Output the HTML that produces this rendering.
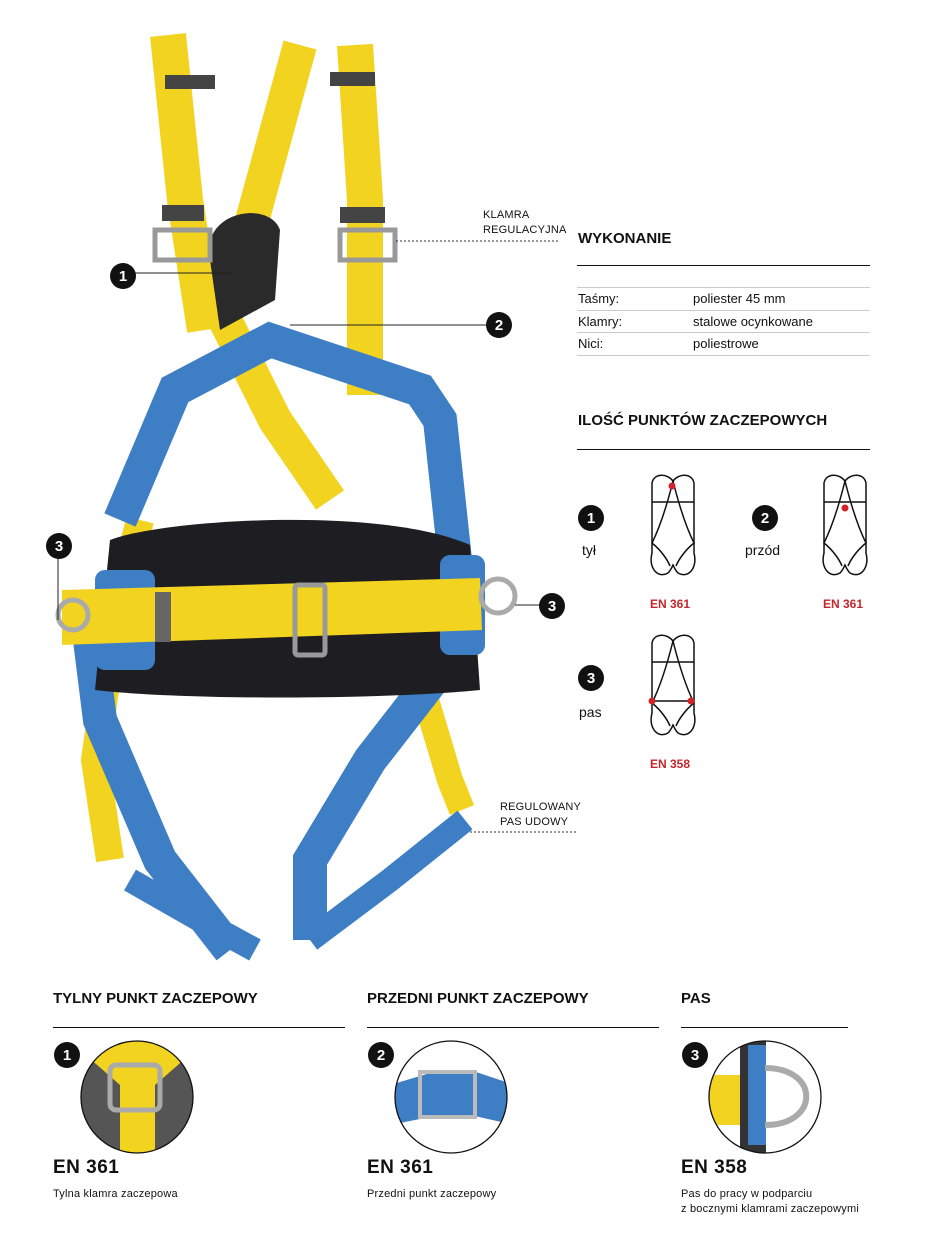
<!DOCTYPE html>
<html><head><meta charset="utf-8"><style>
body{margin:0;width:928px;height:1245px;background:#fff;position:relative;font-family:"Liberation Sans",sans-serif;color:#111;overflow:hidden}
.a{position:absolute;white-space:nowrap}
.h{font-weight:bold;font-size:15px}
.t{font-size:13px}
.r{color:#c0272d;font-size:12px;font-weight:bold}
.sm{font-size:11px;letter-spacing:0.2px;line-height:15px;font-family:"Liberation Sans Narrow","Liberation Sans",sans-serif}
.en{font-weight:bold;font-size:19px;letter-spacing:0.5px}
.hr{position:absolute;height:1px;background:#111}
.hl{position:absolute;height:1px;background:#ccc}
</style></head><body>
<svg width="928" height="1245" style="position:absolute;left:0;top:0">
<defs>
<g id="fig" fill="none" stroke="#111" stroke-width="1.5">
<path d="M23 8 C17 0 4 0 2 10 L2 80 C-2 95 8 106 18 100 C21 97 22 94 23 92 C24 94 25 97 28 100 C38 106 48 95 44 80 L44 10 C42 0 29 0 23 8 Z"/>
<path d="M23 8 C26 20 34 50 44 70 C34 78 28 88 26 93 M23 8 C20 20 12 50 2 70 C12 78 18 88 20 93"/>
<line x1="2" y1="29" x2="44" y2="29"/>
</g>
<clipPath id="c1"><circle cx="137" cy="1097" r="56"/></clipPath>
<clipPath id="c2"><circle cx="451" cy="1097" r="56"/></clipPath>
<clipPath id="c3"><circle cx="765" cy="1097" r="56"/></clipPath>
</defs>
<!-- harness -->
<g stroke-linecap="butt" fill="none">
<polyline points="168,35 185,200 205,330" stroke="#f2d320" stroke-width="36"/>
<polyline points="300,45 255,210 225,320 275,420 330,500" stroke="#f2d320" stroke-width="34"/>
<polyline points="355,45 365,200 365,395" stroke="#f2d320" stroke-width="36"/>
<polyline points="140,520 115,620 95,760 110,860" stroke="#f2d320" stroke-width="28"/>
<polyline points="420,680 450,780 462,810" stroke="#f2d320" stroke-width="26"/>
<polyline points="120,520 175,390 270,340 330,360 420,390 440,420 455,560" stroke="#3d7ec4" stroke-width="34"/>
<polyline points="90,640 100,720 160,860 230,950" stroke="#3d7ec4" stroke-width="34"/>
<polyline points="440,670 370,760 310,860 310,940" stroke="#3d7ec4" stroke-width="34"/>
<polyline points="130,880 200,920 255,950" stroke="#3d7ec4" stroke-width="24"/>
<polyline points="310,940 390,880 465,820" stroke="#3d7ec4" stroke-width="24"/>
<path d="M210 260 C200 210 270 200 280 230 L275 300 L220 330 Z" fill="#2a2a2a" stroke="none"/>
</g>
<path d="M110 540 C160 520 380 505 470 545 L480 690 C380 700 180 700 95 690 Z" fill="#1e1e22"/>
<rect x="95" y="570" width="60" height="100" rx="10" fill="#3d7ec4"/>
<rect x="440" y="555" width="45" height="100" rx="10" fill="#3d7ec4"/>
<polygon points="62,590 480,578 482,630 62,645" fill="#f2d320"/>
<rect x="295" y="585" width="30" height="70" rx="3" fill="none" stroke="#999" stroke-width="5"/>
<rect x="155" y="592" width="16" height="50" fill="#666"/>
<circle cx="73" cy="615" r="15" fill="none" stroke="#aaa" stroke-width="5"/>
<circle cx="498" cy="596" r="17" fill="none" stroke="#aaa" stroke-width="5"/>
<rect x="165" y="75" width="50" height="14" fill="#444"/>
<rect x="330" y="72" width="45" height="14" fill="#444"/>
<rect x="162" y="205" width="42" height="16" fill="#444"/>
<rect x="340" y="207" width="45" height="16" fill="#444"/>
<rect x="155" y="230" width="55" height="30" fill="none" stroke="#999" stroke-width="5"/>
<rect x="340" y="230" width="55" height="30" fill="none" stroke="#999" stroke-width="5"/>
<!-- leaders -->
<line x1="396" y1="241" x2="560" y2="241" stroke="#333" stroke-dasharray="2,2"/>
<line x1="470" y1="832" x2="578" y2="832" stroke="#333" stroke-dasharray="2,2"/>
<line x1="135" y1="273" x2="232" y2="273" stroke="#222"/>
<line x1="290" y1="325" x2="487" y2="325" stroke="#222"/>
<line x1="58" y1="558" x2="58" y2="620" stroke="#222"/>
<line x1="515" y1="605" x2="540" y2="605" stroke="#222"/>
<g font-family="Liberation Sans" font-weight="bold" font-size="15" fill="#fff" text-anchor="middle">
<circle cx="123" cy="276" r="13" fill="#111"/><text x="123" y="281">1</text>
<circle cx="499" cy="325" r="13" fill="#111"/><text x="499" y="330">2</text>
<circle cx="59" cy="546" r="13" fill="#111"/><text x="59" y="551">3</text>
<circle cx="552" cy="606" r="13" fill="#111"/><text x="552" y="611">3</text>
<circle cx="591" cy="518" r="13" fill="#111"/><text x="591" y="523">1</text>
<circle cx="765" cy="518" r="13" fill="#111"/><text x="765" y="523">2</text>
<circle cx="591" cy="678" r="13" fill="#111"/><text x="591" y="683">3</text>
<circle cx="67" cy="1055" r="13" fill="#111"/><text x="67" y="1060">1</text>
<circle cx="381" cy="1055" r="13" fill="#111"/><text x="381" y="1060">2</text>
<circle cx="695" cy="1055" r="13" fill="#111"/><text x="695" y="1060">3</text>
</g>
<use href="#fig" x="650" y="473"/>
<use href="#fig" x="822" y="473"/>
<use href="#fig" x="650" y="633"/>
<circle cx="672" cy="486" r="3.5" fill="#d0232a"/>
<circle cx="845" cy="508" r="3.5" fill="#d0232a"/>
<line x1="652" y1="701" x2="694" y2="701" stroke="#111" stroke-width="1.5"/>
<circle cx="652" cy="701" r="3.5" fill="#d0232a"/>
<circle cx="691" cy="701" r="3.5" fill="#d0232a"/>
<!-- detail circles -->
<g clip-path="url(#c1)">
<rect x="80" y="1040" width="115" height="115" fill="#f2d320"/>
<path d="M80 1050 L120 1085 L120 1160 L80 1160 Z M195 1050 L155 1085 L155 1160 L195 1160 Z" fill="#555"/>
<rect x="110" y="1065" width="50" height="45" rx="6" fill="none" stroke="#aaa" stroke-width="5"/>
</g>
<circle cx="137" cy="1097" r="56" fill="none" stroke="#111" stroke-width="1.3"/>
<g clip-path="url(#c2)">
<rect x="390" y="1040" width="120" height="115" fill="#fff"/>
<path d="M390 1085 L440 1070 L470 1070 L515 1085 L515 1125 L470 1115 L440 1115 L390 1125 Z" fill="#3d7ec4"/>
<rect x="420" y="1072" width="55" height="45" fill="none" stroke="#bbb" stroke-width="4"/>
</g>
<circle cx="451" cy="1097" r="56" fill="none" stroke="#111" stroke-width="1.3"/>
<g clip-path="url(#c3)">
<path d="M705 1075 L765 1075 L765 1125 L705 1125 Z" fill="#f2d320"/>
<rect x="740" y="1040" width="26" height="120" fill="#333"/>
<rect x="748" y="1045" width="18" height="100" fill="#3d7ec4"/>
<path d="M765 1068 C820 1068 820 1125 765 1125" fill="none" stroke="#aaa" stroke-width="6"/>
</g>
<circle cx="765" cy="1097" r="56" fill="none" stroke="#111" stroke-width="1.3"/>
</svg>

<div class="a sm" style="left:483px;top:208px">KLAMRA<br>REGULACYJNA</div>
<div class="a sm" style="left:500px;top:800px">REGULOWANY<br>PAS UDOWY</div>

<div class="a h" style="left:578px;top:230px">WYKONANIE</div>
<div class="hr" style="left:577px;top:265px;width:293px"></div>
<div class="hl" style="left:577px;top:287px;width:293px"></div>
<div class="a t" style="left:578px;top:291px">Taśmy:</div><div class="a t" style="left:693px;top:291px">poliester 45 mm</div>
<div class="hl" style="left:577px;top:310px;width:293px"></div>
<div class="a t" style="left:578px;top:314px">Klamry:</div><div class="a t" style="left:693px;top:314px">stalowe ocynkowane</div>
<div class="hl" style="left:577px;top:332px;width:293px"></div>
<div class="a t" style="left:578px;top:336px">Nici:</div><div class="a t" style="left:693px;top:336px">poliestrowe</div>
<div class="hl" style="left:577px;top:355px;width:293px"></div>

<div class="a h" style="left:578px;top:412px">ILOŚĆ PUNKTÓW ZACZEPOWYCH</div>
<div class="hr" style="left:577px;top:449px;width:293px"></div>
<div class="a t" style="left:582px;top:542px;font-size:14px">tył</div>
<div class="a t" style="left:745px;top:542px;font-size:14px">przód</div>
<div class="a t" style="left:579px;top:704px;font-size:14px">pas</div>
<div class="a r" style="left:650px;top:597px">EN 361</div>
<div class="a r" style="left:823px;top:597px">EN 361</div>
<div class="a r" style="left:650px;top:757px">EN 358</div>

<div class="a h" style="left:53px;top:990px">TYLNY PUNKT ZACZEPOWY</div>
<div class="hr" style="left:53px;top:1027px;width:292px"></div>
<div class="a h" style="left:367px;top:990px">PRZEDNI PUNKT ZACZEPOWY</div>
<div class="hr" style="left:367px;top:1027px;width:292px"></div>
<div class="a h" style="left:681px;top:990px">PAS</div>
<div class="hr" style="left:681px;top:1027px;width:167px"></div>
<div class="a en" style="left:53px;top:1157px">EN 361</div>
<div class="a en" style="left:367px;top:1157px">EN 361</div>
<div class="a en" style="left:681px;top:1157px">EN 358</div>
<div class="a sm" style="left:53px;top:1187px">Tylna klamra zaczepowa</div>
<div class="a sm" style="left:367px;top:1187px">Przedni punkt zaczepowy</div>
<div class="a sm" style="left:681px;top:1187px">Pas do pracy w podparciu<br>z bocznymi klamrami zaczepowymi</div>
</body></html>
